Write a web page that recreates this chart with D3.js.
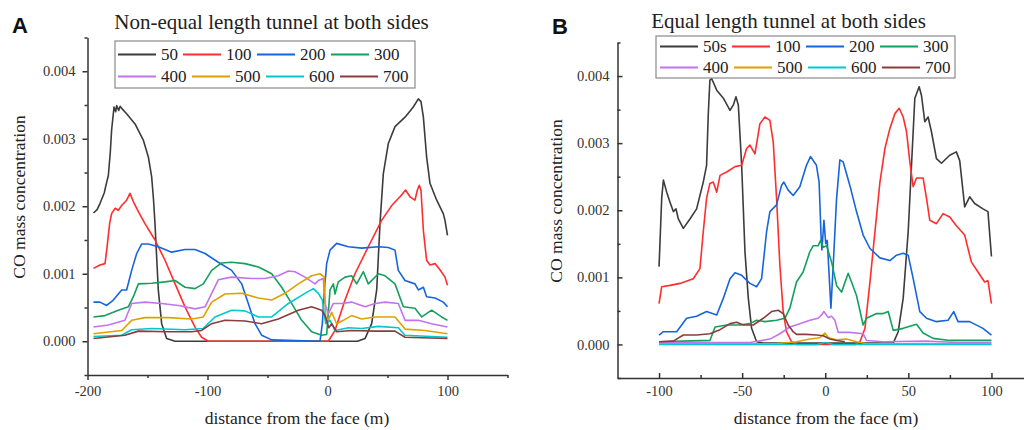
<!DOCTYPE html>
<html><head><meta charset="utf-8">
<script src="https://cdn.jsdelivr.net/npm/d3@7"></script>
<style>
body{margin:0;background:#fff}
svg{display:block}
</style>
</head><body>
<svg id="c" width="1024" height="430"></svg>
<script>
// ---------------- DATA (CO mass concentration in units of 0.001) ----------------
const namesA = ["50","100","200","300","400","500","600","700"];
const namesB = ["50s","100","200","300","400","500","600","700"];
const colors = ["#3c3c3c","#ff2d2d","#1565dc","#14a05c","#c274f0","#e0a000","#00c8d0","#8b3c3c"];

const yTickValues = [0,1,2,3,4];
const yTickLabels = ["0.000","0.001","0.002","0.003","0.004"];
const yMinor = [-0.5,0.5,1.5,2.5,3.5,4.5];
const xTicksA = [-200,-100,0,100];
const xTickLabelsA = ["-200","-100","0","100"];
const xMinorA = [-150,-50,50,150];
const xTicksB = [-100,-50,0,50,100];
const xTickLabelsB = ["-100","-50","0","50","100"];
const xMinorB = [-75,-25,25,75];

// Panel A: non-equal length tunnel
const a50 = [[-195,1.90],[-192,1.95],[-189.6,2.04],[-186,2.20],[-184.9,2.29],[-182.6,2.46],[-181,2.8],[-179.9,3.13],[-177.9,3.47],[-176.5,3.40],[-175.7,3.49],[-174,3.42],[-172.8,3.48],[-171.5,3.45],[-167.4,3.37],[-160.4,3.22],[-153.5,2.98],[-149.3,2.73],[-146.5,2.43],[-145,2.1],[-143.75,1.74],[-141,0.76],[-138.2,0.26],[-134,0.04],[-127,0.0],[25,0.0],[31.25,0.04],[36.8,0.26],[41,0.76],[43.75,1.74],[46.5,2.48],[50.7,2.93],[56.25,3.18],[64.6,3.32],[71.5,3.47],[75.7,3.59],[77.9,3.55],[79.9,3.32],[82.6,2.73],[85.4,2.34],[91,2.09],[96.5,1.89],[97.9,1.79],[100,1.57]];
const a100 = [[-195,1.08],[-189.6,1.13],[-185.4,1.15],[-184,1.35],[-181.5,1.75],[-179.9,1.89],[-177,1.97],[-174.3,1.94],[-171.5,2.01],[-167.4,2.09],[-164.6,2.19],[-161.8,2.07],[-157.6,1.92],[-152,1.74],[-143.75,1.50],[-135.4,1.20],[-127,0.85],[-118.75,0.51],[-110.4,0.21],[-104.9,0.06],[-99.3,0.0],[0.7,0.0],[6.25,0.16],[14.6,0.61],[22.9,1.0],[34,1.40],[45.1,1.79],[53.5,2.01],[60.4,2.14],[65.1,2.24],[68.75,2.14],[72.9,2.09],[74.9,2.24],[76.5,2.31],[77.9,2.24],[79.9,1.64],[82.6,1.20],[85.4,1.13],[89.6,1.15],[93.75,1.06],[97.9,0.95],[100,0.83]];
const a200 = [[-195,0.58],[-189.6,0.58],[-184,0.53],[-178.5,0.61],[-171.5,0.76],[-167.4,0.76],[-163.2,1.05],[-159,1.30],[-154.9,1.44],[-149.3,1.44],[-141,1.40],[-129.9,1.32],[-118.75,1.36],[-110.4,1.36],[-102,1.30],[-91,1.17],[-79.9,1.05],[-71.5,0.85],[-66,0.56],[-60.4,0.26],[-54.9,0.09],[-46.5,0.02],[-6.25,0.0],[-4.3,0.26],[-2.6,0.76],[-0.7,1.15],[2.1,1.35],[7.6,1.45],[17.4,1.40],[28.5,1.38],[42.4,1.40],[50.7,1.39],[56.25,1.35],[59,1.05],[64.6,0.90],[72.9,0.85],[75.7,0.76],[79.9,0.80],[82.6,0.66],[89.6,0.64],[96.5,0.58],[100,0.51]];
const a300 = [[-195,0.36],[-185.4,0.38],[-174.3,0.46],[-166,0.51],[-161.8,0.66],[-157.6,0.85],[-146.5,0.86],[-135.4,0.88],[-127,0.90],[-118.75,0.80],[-110.4,0.78],[-103.5,0.85],[-96.5,1.05],[-88.2,1.16],[-79.9,1.17],[-68.75,1.15],[-57.6,1.10],[-46.5,1.0],[-38.2,0.80],[-29.9,0.56],[-21.5,0.31],[-13.2,0.14],[-4.9,0.09],[-0.7,0.10],[2.1,0.76],[4.9,0.85],[6.25,0.70],[9,0.88],[14.6,0.95],[20.1,0.97],[24.3,0.85],[29.9,1.03],[34,0.85],[42.4,1.0],[48,0.97],[56.25,0.85],[63.2,0.51],[72.9,0.49],[78.5,0.36],[86.8,0.46],[95.1,0.36],[100,0.31]];
const a400 = [[-195,0.21],[-182.6,0.24],[-168.8,0.31],[-163.2,0.56],[-152,0.58],[-138.2,0.56],[-124.3,0.53],[-110.4,0.48],[-102,0.51],[-91,0.91],[-79.9,0.95],[-63.2,0.93],[-52.1,0.93],[-41,0.97],[-32.6,1.04],[-27.1,1.03],[-18.75,0.95],[-10.4,0.85],[-7.6,0.90],[-3.5,0.93],[-2.1,0.56],[0.7,0.41],[4.9,0.56],[11.8,0.56],[20.1,0.58],[31.25,0.51],[39.6,0.56],[48,0.58],[59,0.56],[64.6,0.31],[75.7,0.31],[86.8,0.26],[100,0.21]];
const a500 = [[-195,0.11],[-171.5,0.16],[-163.2,0.31],[-152,0.35],[-132.6,0.35],[-113.2,0.33],[-103.5,0.36],[-96.5,0.58],[-85.4,0.70],[-71.5,0.71],[-57.6,0.64],[-46.5,0.61],[-35.4,0.71],[-24.3,0.85],[-13.2,0.97],[-6.25,1.0],[-2.6,0.95],[-1.5,0.36],[0.7,0.31],[3.5,0.43],[7.6,0.26],[13.2,0.31],[20.1,0.38],[28.5,0.33],[39.6,0.36],[56.25,0.36],[64.6,0.18],[81.25,0.16],[100,0.11]];
const a600 = [[-195,0.07],[-171.5,0.09],[-163.2,0.17],[-146.5,0.19],[-118.75,0.17],[-103.5,0.19],[-93.8,0.36],[-79.9,0.46],[-68.75,0.45],[-57.6,0.36],[-46.5,0.36],[-32.6,0.56],[-18.75,0.71],[-11.8,0.78],[-7.6,0.71],[-4.3,0.61],[-1.5,0.26],[2.1,0.31],[6.25,0.16],[17.4,0.20],[28.5,0.19],[42.4,0.22],[59,0.20],[64.6,0.09],[100,0.06]];
const a700 = [[-195,0.04],[-168.8,0.09],[-157.6,0.15],[-132.6,0.14],[-113.2,0.14],[-104.9,0.16],[-96.5,0.26],[-85.4,0.31],[-68.75,0.30],[-54.9,0.26],[-41,0.33],[-24.3,0.46],[-13.2,0.51],[-4.9,0.46],[-2.1,0.38],[1.1,0.20],[3.5,0.26],[7.6,0.14],[20.1,0.16],[39.6,0.15],[56.25,0.15],[64.6,0.06],[100,0.04]];

// Panel B: equal length tunnel
const b50 = [[-100,1.16],[-98.4,2.18],[-97.4,2.45],[-95.4,2.27],[-93.4,2.12],[-91.4,1.98],[-89.8,2.02],[-88.4,1.87],[-85.4,1.73],[-81.4,1.87],[-77.4,2.02],[-73.4,2.42],[-71.4,2.67],[-70.4,3.42],[-69.4,3.94],[-68.3,3.96],[-65.3,3.79],[-61.3,3.67],[-57.3,3.49],[-55.3,3.57],[-53.7,3.69],[-52.3,3.57],[-50.3,2.67],[-48.3,1.38],[-46.3,0.69],[-44.3,0.24],[-41.3,0.04],[-37.3,0.02],[40.9,0.02],[43.9,0.19],[46.9,0.69],[49.9,1.68],[51.9,2.67],[53.9,3.67],[56.5,3.84],[57.9,3.71],[59.9,3.32],[61.9,3.39],[63.9,3.17],[66.9,2.77],[69.9,2.70],[74.9,2.82],[78.9,2.87],[80.9,2.74],[83.9,2.05],[86.9,2.20],[89.9,2.10],[94.9,2.02],[97.9,1.98],[100,1.31]];
const b100 = [[-100,0.61],[-98.4,0.86],[-93.4,0.88],[-87.4,0.91],[-79.4,0.98],[-75.4,1.13],[-73.4,1.68],[-71.4,2.18],[-69.4,2.40],[-67.4,2.42],[-65.3,2.27],[-63.3,2.52],[-59.3,2.57],[-54.3,2.65],[-50.3,2.67],[-47.3,2.92],[-45.3,2.97],[-42.3,2.84],[-39.3,3.29],[-36.3,3.39],[-33.3,3.34],[-31.3,3.02],[-29.3,2.18],[-27.3,1.18],[-25.3,0.49],[-23.3,0.19],[-20.3,0.04],[-17,0.0],[18,0.0],[20.9,0.04],[23.9,0.24],[26.9,0.93],[29.9,1.68],[32.9,2.42],[35.9,2.92],[38.9,3.22],[41.9,3.44],[44.5,3.52],[46.9,3.39],[48.9,3.17],[50.9,2.72],[52.9,2.35],[54.9,2.48],[58.9,2.48],[60.9,2.18],[62.9,1.85],[66.9,1.80],[70.9,1.95],[74.9,1.90],[78.9,1.77],[83.9,1.63],[87.9,1.23],[91.9,1.08],[95.9,0.93],[97.9,0.95],[100,0.61]];
const b200 = [[-100,0.14],[-97.4,0.19],[-89.4,0.19],[-83.4,0.39],[-77.4,0.42],[-71.4,0.49],[-65.3,0.44],[-61.3,0.69],[-57.3,0.98],[-54.3,1.07],[-50.3,1.03],[-45.3,0.91],[-41.3,0.86],[-38.3,0.98],[-35.3,1.68],[-33.3,1.98],[-29.3,2.08],[-26.3,2.37],[-24.9,2.42],[-22.3,2.30],[-19.3,2.22],[-15.3,2.35],[-11.3,2.67],[-8.9,2.80],[-5.3,2.67],[-3.7,2.42],[-2.5,1.6],[-2.0,1.41],[-0.8,1.85],[0.3,1.5],[1.2,1.55],[2.2,1.1],[3.4,0.54],[4.8,1.18],[6.8,2.17],[8.8,2.75],[10.8,2.72],[14.8,2.37],[18.8,1.98],[22.8,1.63],[26.9,1.43],[32.9,1.29],[38.9,1.25],[42.9,1.33],[46.9,1.36],[49.9,1.33],[52.9,0.98],[56.9,0.49],[60.9,0.39],[66.9,0.34],[73.9,0.36],[77.3,0.49],[79.9,0.34],[86.9,0.34],[94.9,0.24],[100,0.14]];
const b300 = [[-100,0.04],[-85.4,0.05],[-69.4,0.06],[-66.3,0.26],[-59.3,0.29],[-51.3,0.29],[-45.3,0.31],[-41.3,0.36],[-36.3,0.34],[-29.3,0.36],[-24.3,0.39],[-21.3,0.54],[-17.3,0.93],[-13.3,1.08],[-9.3,1.38],[-7.3,1.47],[-4.3,1.47],[-2.8,1.55],[-1.2,1.45],[0.8,1.47],[3.8,1.23],[6.8,0.88],[9.8,0.78],[13.8,1.06],[15.8,0.93],[18.8,0.73],[22.8,0.29],[24.8,0.39],[30.9,0.46],[34.9,0.46],[37.9,0.49],[40.9,0.21],[46.9,0.24],[54.9,0.30],[58.9,0.17],[64.9,0.09],[74.9,0.06],[100,0.06]];
const b400 = [[-100,0.03],[-45.3,0.03],[-33.3,0.08],[-27.3,0.16],[-21.3,0.26],[-15.3,0.31],[-9.3,0.36],[-4.3,0.39],[-2.2,0.44],[-0.8,0.49],[1.8,0.40],[3.8,0.42],[5.8,0.36],[7.8,0.18],[14.8,0.18],[22.8,0.16],[24.8,0.06],[34.9,0.04],[60,0.05],[80,0.03],[100,0.03]];
const b500 = [[-100,0.01],[-30,0.01],[-17.3,0.04],[-9.3,0.08],[-3.3,0.10],[-0.2,0.17],[1.8,0.10],[6.8,0.07],[12.8,0.08],[18.8,0.04],[25,0.01],[100,0.01]];
const b600 = [[-100,0.0],[-5,0.0],[0,0.03],[5,0.0],[100,0.0]];
const b700 = [[-100,0.04],[-91.4,0.05],[-85.4,0.14],[-77.4,0.14],[-69.4,0.16],[-63.3,0.22],[-57.3,0.31],[-53.3,0.33],[-49.3,0.29],[-43.3,0.29],[-37.3,0.39],[-32.3,0.49],[-28.3,0.51],[-25.3,0.46],[-22.3,0.29],[-19.3,0.19],[-17.3,0.15],[-11.3,0.15],[-5.3,0.14],[-1.2,0.13],[2.8,0.08],[6.8,0.06],[11.8,0.04]];

const seriesA = [a50,a100,a200,a300,a400,a500,a600,a700];
const seriesB = [b50,b100,b200,b300,b400,b500,b600,b700];

// ---------------- DRAWING ----------------
const SERIF = '"Liberation Serif"';
const SANS = '"Liberation Sans"';
const svg = d3.select("#c");
const AX = "#333";

function panel(cfg){
  const g = svg.append("g");
  const x = d3.scaleLinear().domain(cfg.xDomain).range(cfg.xRange);
  const y = d3.scaleLinear().domain([-0.5,4.5]).range(cfg.yRange);
  const dir = cfg.inward ? -1 : 1;

  const line = d3.line().x(d=>x(d[0])).y(d=>y(d[1]));
  cfg.series.forEach((s,i)=>{
    g.append("path").datum(s).attr("d",line)
      .attr("fill","none").attr("stroke",colors[i]).attr("stroke-width",1.6)
      .attr("stroke-linejoin","round");
  });

  const style = sel => {
    sel.attr("font-family",null);
    sel.selectAll("path.domain").attr("stroke",AX).attr("stroke-width",1.5);
    sel.selectAll(".tick line").attr("stroke",AX).attr("stroke-width",1.5);
    sel.selectAll(".tick text").attr("fill",AX).style("font-size","14.5px")
       .style("font-family",SERIF);
  };
  const y0 = cfg.yRange[0];
  const gx = g.append("g").attr("transform",`translate(0,${y0})`)
    .call(d3.axisBottom(x).tickValues(cfg.xTicks).tickFormat((d,i)=>cfg.xLabels[i])
      .tickSize(5*dir).tickSizeOuter(0).tickPadding(cfg.xPad));
  style(gx);
  const gxm = g.append("g").attr("transform",`translate(0,${y0})`)
    .call(d3.axisBottom(x).tickValues(cfg.xMinor).tickFormat("").tickSize(3*dir).tickSizeOuter(0));
  gxm.select("path.domain").remove(); style(gxm);

  const x0 = cfg.xRange[0];
  const gy = g.append("g").attr("transform",`translate(${x0},0)`)
    .call(d3.axisLeft(y).tickValues(yTickValues).tickFormat((d,i)=>yTickLabels[i])
      .tickSize(5*dir).tickSizeOuter(0).tickPadding(cfg.yPad));
  style(gy);
  const gym = g.append("g").attr("transform",`translate(${x0},0)`)
    .call(d3.axisLeft(y).tickValues(yMinor).tickFormat("").tickSize(3*dir).tickSizeOuter(0));
  gym.select("path.domain").remove(); style(gym);

  // panel letter
  g.append("text").attr("x",cfg.letterX).attr("y",cfg.letterY).text(cfg.letter)
    .style("font-family",SANS).style("font-weight","bold")
    .style("font-size","22px").attr("fill","#111");
  // title
  g.append("text").attr("x",cfg.titleX).attr("y",cfg.titleY).attr("text-anchor","middle")
    .style("font-family",SERIF).style("font-size","21px").attr("fill","#222").text(cfg.title);
  // axis titles
  g.append("text").attr("x",cfg.xLabX).attr("y",424).attr("text-anchor","middle")
    .style("font-family",SERIF).style("font-size","17.5px").attr("fill","#222")
    .text("distance from the face (m)");
  g.append("text").attr("transform",`translate(${cfg.yLabX},${cfg.yLabY}) rotate(-90)`)
    .attr("text-anchor","middle").style("font-family",SERIF).style("font-size","17.5px")
    .attr("fill","#222").text("CO mass concentration");

  // legend
  const L = cfg.legend;
  g.append("rect").attr("x",L.x).attr("y",L.y).attr("width",L.w).attr("height",L.h)
    .attr("fill","#fff").attr("stroke","#8a8a8a").attr("stroke-width",1.2);
  cfg.names.forEach((n,i)=>{
    const row = Math.floor(i/4);
    const cx = L.cols[row][i%4];
    const cy = L.rows[row];
    g.append("line").attr("x1",cx).attr("x2",cx+38).attr("y1",cy).attr("y2",cy)
      .attr("stroke",colors[i]).attr("stroke-width",1.8);
    g.append("text").attr("x",cx+43).attr("y",cy+5.8).style("font-family",SERIF)
      .style("font-size","17px").attr("fill","#222").text(n);
  });
}

panel({
  series: seriesA, names: namesA,
  xDomain:[-200,150], xRange:[87.5,507.5], yRange:[375,37.5],
  xTicks:xTicksA, xLabels:xTickLabelsA, xMinor:xMinorA,
  inward:false, xPad:6, yPad:7,
  letter:"A", letterX:12, letterY:33,
  title:"Non-equal length tunnel at both sides", titleX:271.5, titleY:29,
  xLabX:297, yLabX:25, yLabY:197,
  legend:{x:115,y:41,w:300,h:47, rows:[54.5,76.5],
          cols:[[118,183,257,331],[118,192,266,340]]}
});
panel({
  series: seriesB, names: namesB,
  xDomain:[-125,125], xRange:[617.5,1033], yRange:[378,42.5],
  xTicks:xTicksB, xLabels:xTickLabelsB, xMinor:xMinorB,
  inward:true, xPad:8, yPad:8,
  letter:"B", letterX:552, letterY:34,
  title:"Equal length tunnel at both sides", titleX:788.5, titleY:28,
  xLabX:826, yLabX:562, yLabY:201,
  legend:{x:656,y:36,w:299,h:42, rows:[46.5,67.5],
          cols:[[660,732,806,880],[660,734,808,882]]}
});
</script>
</body></html>
